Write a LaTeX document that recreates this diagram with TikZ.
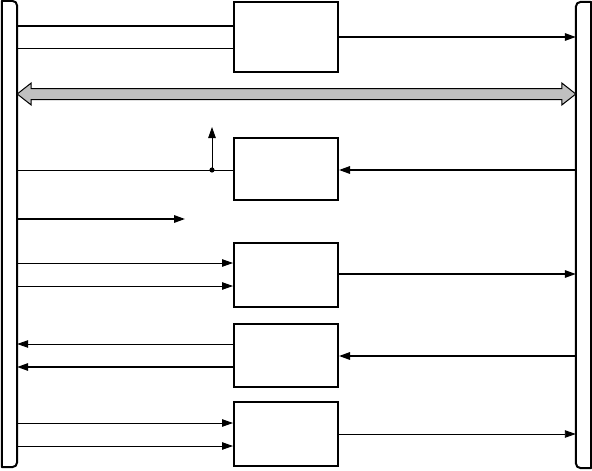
\documentclass[tikz,border=0pt]{standalone}
\usetikzlibrary{arrows.meta}
\begin{document}
\begin{tikzpicture}[x=1pt,y=1pt,
  box/.style={draw,line width=2pt,rectangle,inner sep=0pt,minimum width=104pt},
  barnode/.style={rectangle,inner sep=0pt,minimum width=15pt},
  barline/.style={line width=2pt,line join=round},
  thk/.style={line width=1.6pt},
  thn/.style={line width=0.9pt},
  tip/.style={-{Triangle[length=11pt,width=7.5pt]}},
  bigarrow/.style={fill={rgb,255:red,192;green,192;blue,192},draw=black,line width=1pt,line join=miter}
]
\useasboundingbox (0,0) rectangle (592,-471);
% bars
\node[barnode,minimum height=466pt] (L) at (9.5,-234) {};
\node[barnode,minimum height=466pt] (R) at (583.5,-235) {};
\draw[barline] (L.south west) -- (L.north west) -- ([xshift=-5pt]L.north east)
  arc[start angle=90,end angle=0,radius=5pt] -- ([yshift=5pt]L.south east)
  arc[start angle=0,end angle=-90,radius=5pt] -- cycle;
\draw[barline] (R.south east) -- (R.north east) -- ([xshift=5pt]R.north west)
  arc[start angle=90,end angle=180,radius=5pt] -- ([yshift=5pt]R.south west)
  arc[start angle=180,end angle=270,radius=5pt] -- cycle;
% boxes
\node[box,minimum height=70pt] (B1) at (286,-37) {};
\node[box,minimum height=62pt] (B2) at (286,-169) {};
\node[box,minimum height=64pt] (B3) at (286,-275) {};
\node[box,minimum height=63pt] (B4) at (286,-355.5) {};
\node[box,minimum height=64pt] (B5) at (286,-434) {};
% box 1
\draw[thk] (L.east |- 0,-26) -- (B1.west |- 0,-26);
\draw[thn] (L.east |- 0,-48) -- (B1.west |- 0,-48);
\draw[thk,tip] (B1.east |- 0,-37) -- (R.west |- 0,-37);
% big double arrow
\coordinate (A1) at (L.east |- 0,-94);
\coordinate (A2) at (R.west |- 0,-94);
\draw[bigarrow] (A1) -- ++(14,11) -- ++(0,-5.5) -- ([xshift=-14pt,yshift=5.5pt]A2) -- ++(0,5.5) -- (A2)
  -- ++(-14,-11) -- ++(0,5.5) -- ([xshift=14pt,yshift=-5.5pt]A1) -- ++(0,-5.5) -- cycle;
% box 2
\coordinate (D) at (212,-170);
\draw[thn] (L.east |- D) -- (B2.west |- D);
\fill (D) circle[radius=2.6pt];
\coordinate (Up) at (212,-127);
\draw[thn,tip] (D) -- (Up);
\draw[thk,tip] (R.west |- 0,-170) -- (B2.east |- 0,-170);
% free arrow
\coordinate (F) at (185,-219);
\draw[thk,tip] (L.east |- F) -- (F);
% box 3
\draw[thn,tip] (L.east |- 0,-263) -- (B3.west |- 0,-263);
\draw[thn,tip] (L.east |- 0,-286) -- (B3.west |- 0,-286);
\draw[thk,tip] (B3.east |- 0,-274) -- (R.west |- 0,-274);
% box 4
\draw[thn,tip] (B4.west |- 0,-344) -- (L.east |- 0,-344);
\draw[thk,tip] (B4.west |- 0,-367) -- (L.east |- 0,-367);
\draw[thk,tip] (R.west |- 0,-356) -- (B4.east |- 0,-356);
% box 5
\draw[thn,tip] (L.east |- 0,-423) -- (B5.west |- 0,-423);
\draw[thn,tip] (L.east |- 0,-446) -- (B5.west |- 0,-446);
\draw[thn,tip] (B5.east |- 0,-434) -- (R.west |- 0,-434);
\end{tikzpicture}
\end{document}
